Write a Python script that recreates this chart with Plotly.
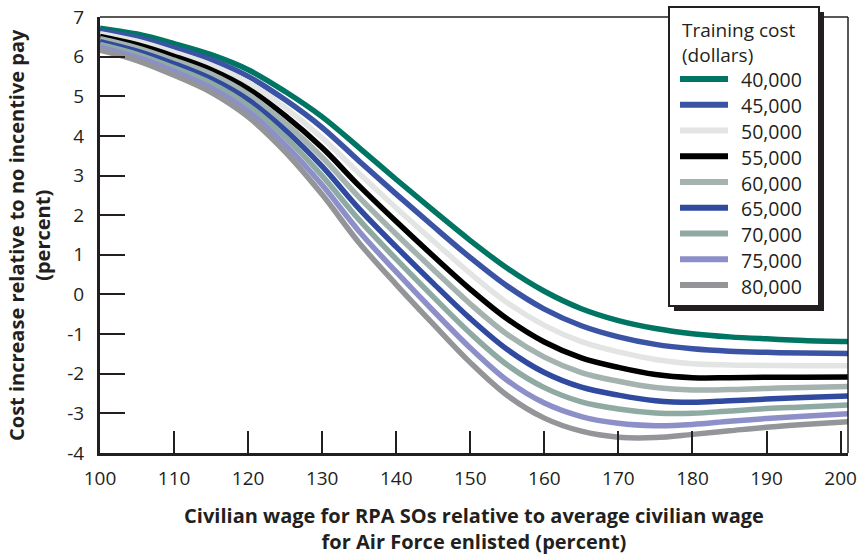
import plotly.graph_objects as go

wage = [100, 105, 110, 115, 120, 125, 130, 135, 140, 145, 150, 155, 160, 165, 170, 175, 180, 185, 190, 195, 201]

cost_40k = [6.72, 6.57, 6.33, 6.05, 5.67, 5.12, 4.48, 3.70, 2.90, 2.12, 1.36, 0.66, 0.08, -0.36, -0.66, -0.86, -0.99, -1.07, -1.12, -1.16, -1.19]
cost_45k = [6.65, 6.48, 6.22, 5.92, 5.50, 4.91, 4.21, 3.36, 2.53, 1.72, 0.93, 0.21, -0.37, -0.79, -1.07, -1.26, -1.37, -1.43, -1.46, -1.48, -1.49]
cost_50k = [6.58, 6.39, 6.11, 5.79, 5.35, 4.71, 3.95, 3.05, 2.18, 1.35, 0.53, -0.21, -0.78, -1.19, -1.45, -1.64, -1.75, -1.78, -1.79, -1.80, -1.80]
cost_55k = [6.51, 6.30, 6.01, 5.67, 5.19, 4.51, 3.70, 2.74, 1.84, 0.97, 0.13, -0.62, -1.20, -1.60, -1.84, -2.02, -2.10, -2.10, -2.09, -2.09, -2.08]
cost_60k = [6.45, 6.22, 5.91, 5.56, 5.05, 4.33, 3.46, 2.45, 1.52, 0.63, -0.24, -1.01, -1.58, -1.97, -2.19, -2.35, -2.41, -2.40, -2.37, -2.35, -2.32]
cost_65k = [6.38, 6.14, 5.82, 5.44, 4.91, 4.15, 3.23, 2.16, 1.20, 0.28, -0.61, -1.39, -1.97, -2.34, -2.54, -2.68, -2.72, -2.68, -2.64, -2.60, -2.56]
cost_70k = [6.31, 6.06, 5.72, 5.33, 4.77, 3.97, 2.99, 1.88, 0.89, -0.06, -0.98, -1.78, -2.35, -2.71, -2.89, -2.99, -3.00, -2.94, -2.88, -2.84, -2.79]
cost_75k = [6.24, 5.98, 5.63, 5.21, 4.62, 3.78, 2.76, 1.59, 0.57, -0.41, -1.35, -2.17, -2.74, -3.08, -3.25, -3.31, -3.28, -3.20, -3.13, -3.07, -3.01]
cost_80k = [6.16, 5.90, 5.53, 5.10, 4.48, 3.60, 2.52, 1.30, 0.25, -0.75, -1.72, -2.55, -3.12, -3.45, -3.60, -3.61, -3.53, -3.44, -3.35, -3.28, -3.21]

series_names = ["40,000", "45,000", "50,000", "55,000", "60,000", "65,000", "70,000", "75,000", "80,000"]
series_values = [cost_40k, cost_45k, cost_50k, cost_55k, cost_60k, cost_65k, cost_70k, cost_75k, cost_80k]
series_colors = ["#007563", "#3a53a4", "#e3e5e4", "#000000", "#a4b2b0", "#2f4a9e", "#8faaa3", "#8d8fc9", "#939598"]
legend_title = "Training cost<br>(dollars)"

x_ticks = [100, 110, 120, 130, 140, 150, 160, 170, 180, 190, 200]
y_ticks = [-4, -3, -2, -1, 0, 1, 2, 3, 4, 5, 6, 7]

x_title = "<b>Civilian wage for RPA SOs relative to average civilian wage<br>for Air Force enlisted (percent)</b>"
y_title = "<b>Cost increase relative to no incentive pay<br>(percent)</b>"

FONT = "Open Sans"
INK = "#231f20"

# plot area in pixels
W, H = 863, 555
ML, MR, MT, MB = 100, 15, 17, 102
PW, PH = W - ML - MR, H - MT - MB


def px(x):
    return (x - ML) / PW


def py(y):
    return (H - MB - y) / PH


fig = go.Figure()
for name, vals, col in zip(series_names, series_values, series_colors):
    fig.add_trace(go.Scatter(
        x=wage, y=vals, name=name, mode="lines", showlegend=False,
        line=dict(color=col, width=5.5, shape="spline", smoothing=1.0),
    ))

shapes = [
    dict(type="line", xref="paper", yref="paper", x0=0, x1=1, y0=1, y1=1, line=dict(color=INK, width=1.5)),
    dict(type="line", xref="paper", yref="paper", x0=1, x1=1, y0=0, y1=1, line=dict(color=INK, width=1.5)),
]
annotations = []

# y-axis title
annotations.append(dict(xref="paper", yref="paper", x=px(29), y=0.5, xanchor="center", yanchor="middle",
                        textangle=-90, showarrow=False, text=y_title,
                        font=dict(family=FONT, size=20, color=INK)))

# legend box with drop shadow
box_l, box_r, box_t, box_b = 669, 819, 7, 306
shapes.append(dict(type="rect", xref="paper", yref="paper", layer="above",
                   x0=px(box_l + 5), x1=px(box_r + 5), y0=py(box_b + 5), y1=py(box_t + 5),
                   fillcolor=INK, line=dict(width=0)))
shapes.append(dict(type="rect", xref="paper", yref="paper", layer="above",
                   x0=px(box_l), x1=px(box_r), y0=py(box_b), y1=py(box_t),
                   fillcolor="white", line=dict(color=INK, width=2)))
annotations.append(dict(xref="paper", yref="paper", x=px(680), y=py(42), align="left",
                        xanchor="left", yanchor="middle", showarrow=False, text=legend_title,
                        font=dict(family=FONT, size=19, color=INK)))
row0, row_gap = 79, 25.75
for i, (name, col) in enumerate(zip(series_names, series_colors)):
    yy = row0 + row_gap * i
    shapes.append(dict(type="line", xref="paper", yref="paper", layer="above",
                       x0=px(680), x1=px(728), y0=py(yy), y1=py(yy),
                       line=dict(color=col, width=6)))
    annotations.append(dict(xref="paper", yref="paper", x=px(739), y=py(yy + 1),
                            xanchor="left", yanchor="middle", showarrow=False, text=name,
                            font=dict(family=FONT, size=19.5, color=INK)))

fig.update_layout(
    width=W, height=H,
    margin=dict(l=ML, r=MR, t=MT, b=MB, autoexpand=False),
    paper_bgcolor="white", plot_bgcolor="white",
    font=dict(family=FONT, color=INK, size=19),
    showlegend=False,
    xaxis=dict(
        range=[100, 201], tickvals=x_ticks, ticktext=[str(v) for v in x_ticks],
        ticks="inside", ticklen=22, tickwidth=2, tickcolor=INK, automargin=False,
        showline=True, linewidth=3, linecolor=INK, showgrid=False, zeroline=False,
        tickfont=dict(family=FONT, size=19, color=INK), ticklabelstandoff=6,
        title=dict(text=x_title, font=dict(family=FONT, size=20, color=INK), standoff=24),
    ),
    yaxis=dict(
        range=[-4, 7], tickvals=y_ticks, ticktext=[str(v) for v in y_ticks],
        ticks="inside", ticklen=25, tickwidth=2, tickcolor=INK, automargin=False,
        showline=True, linewidth=3, linecolor=INK, showgrid=False, zeroline=False,
        tickfont=dict(family=FONT, size=19, color=INK), ticklabelstandoff=9,
    ),
    shapes=shapes,
    annotations=annotations,
)

fig.write_html("out.html", config={"displayModeBar": False},
               post_script="document.body.style.margin='0';")
